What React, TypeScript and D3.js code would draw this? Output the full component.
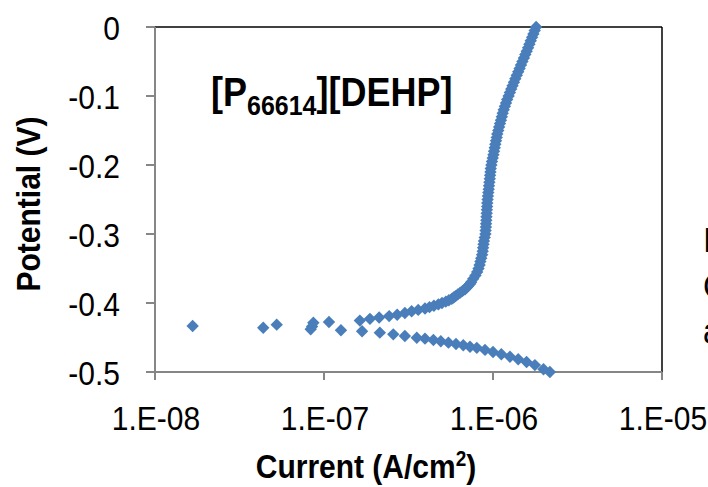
import React from "react";
import * as d3 from "d3";

// Anodic branch: potential (V) and current density (A/cm²)
const anodicPotential = [
  0, -0.005, -0.01, -0.015, -0.02, -0.025, -0.03, -0.035, -0.04, -0.045, -0.05, -0.055, -0.06, -0.065,
  -0.07, -0.075, -0.08, -0.085, -0.09, -0.095, -0.1, -0.105, -0.11, -0.115, -0.12, -0.125, -0.13, -0.135,
  -0.14, -0.145, -0.15, -0.155, -0.16, -0.165, -0.17, -0.175, -0.18, -0.185, -0.19, -0.195, -0.2, -0.205,
  -0.21, -0.215, -0.22, -0.225, -0.23, -0.235, -0.24, -0.245, -0.25, -0.255, -0.26, -0.265, -0.27, -0.275,
  -0.28, -0.285, -0.29, -0.295, -0.3, -0.305, -0.31, -0.315, -0.32, -0.325, -0.33, -0.335, -0.34, -0.345,
  -0.35, -0.355, -0.36, -0.365, -0.37, -0.3725, -0.375, -0.3775, -0.38, -0.3825, -0.385, -0.3875, -0.39,
  -0.392, -0.394, -0.396, -0.398, -0.4, -0.402, -0.404, -0.406, -0.408, -0.41, -0.412, -0.4145, -0.417,
  -0.419, -0.421, -0.423, -0.4255,
];
const anodicCurrent = [
  1.8e-6, 1.765e-6, 1.734e-6, 1.704e-6, 1.672e-6, 1.642e-6, 1.613e-6, 1.583e-6, 1.553e-6, 1.524e-6, 1.493e-6,
  1.464e-6, 1.437e-6, 1.41e-6, 1.383e-6, 1.355e-6, 1.33e-6, 1.305e-6, 1.282e-6, 1.259e-6, 1.237e-6, 1.213e-6,
  1.194e-6, 1.176e-6, 1.157e-6, 1.141e-6, 1.128e-6, 1.114e-6, 1.1e-6, 1.087e-6, 1.074e-6, 1.06e-6, 1.052e-6,
  1.042e-6, 1.032e-6, 1.024e-6, 1.014e-6, 1.006e-6, 9.96e-7, 9.86e-7, 9.78e-7, 9.7e-7, 9.66e-7, 9.61e-7,
  9.57e-7, 9.52e-7, 9.47e-7, 9.43e-7, 9.38e-7, 9.33e-7, 9.29e-7, 9.25e-7, 9.23e-7, 9.2e-7, 9.18e-7, 9.15e-7,
  9.13e-7, 9.1e-7, 9.08e-7, 9.04e-7, 9.02e-7, 8.93e-7, 8.84e-7, 8.79e-7, 8.74e-7, 8.69e-7, 8.62e-7, 8.52e-7,
  8.42e-7, 8.33e-7, 8.21e-7, 8.06e-7, 7.87e-7, 7.64e-7, 7.42e-7, 7.31e-7, 7.14e-7, 6.99e-7, 6.83e-7, 6.61e-7,
  6.4e-7, 6.19e-7, 6.0e-7, 5.85e-7, 5.7e-7, 5.48e-7, 5.26e-7, 4.99e-7, 4.75e-7, 4.47e-7, 4.21e-7, 3.96e-7,
  3.61e-7, 3.3e-7, 3.01e-7, 2.71e-7, 2.43e-7, 2.12e-7, 1.87e-7, 1.63e-7,
];

// Cathodic branch
const cathodicPotential = [
  -0.5, -0.496, -0.49, -0.4855, -0.4816, -0.4778, -0.4743, -0.471, -0.468, -0.465, -0.4633, -0.4613, -0.4594,
  -0.4575, -0.4555, -0.4536, -0.4517, -0.4503, -0.4478, -0.4454, -0.443, -0.441, -0.4396,
];
const cathodicCurrent = [
  2.17e-6, 1.99e-6, 1.77e-6, 1.58e-6, 1.41e-6, 1.26e-6, 1.12e-6, 1.0e-6, 8.97e-7, 8.02e-7, 7.31e-7, 6.67e-7,
  6.04e-7, 5.45e-7, 4.91e-7, 4.44e-7, 3.96e-7, 3.54e-7, 3.01e-7, 2.57e-7, 2.14e-7, 1.68e-7, 1.26e-7,
];

// Scattered points near the corrosion potential
const scatterPotential = [-0.4333, -0.4358, -0.4314, -0.4381, -0.4286, -0.4275, -0.434];
const scatterCurrent = [1.67e-8, 4.37e-8, 5.25e-8, 8.34e-8, 8.65e-8, 1.07e-7, 8.5e-8];

const yTicks = [0, -0.1, -0.2, -0.3, -0.4, -0.5];
const xTicks = [1e-8, 1e-7, 1e-6, 1e-5];
const xTickLabels = ["1.E-08", "1.E-07", "1.E-06", "1.E-05"];

const W = 708;
const H = 487;
const left = 155;
const right = 662;
const top = 27;
const bottom = 372;
const STRETCH = 1.12;

function T({
  x,
  y,
  size,
  anchor = "start",
  bold = false,
  rotate = 0,
  children,
}: {
  x: number;
  y: number;
  size: number;
  anchor?: string;
  bold?: boolean;
  rotate?: number;
  children: React.ReactNode;
}) {
  const tr = rotate
    ? `translate(${x},${y}) rotate(${rotate}) scale(1,${STRETCH})`
    : `translate(${x},${y}) scale(1,${STRETCH})`;
  return (
    <text
      transform={tr}
      textAnchor={anchor}
      fontSize={size}
      fontWeight={bold ? "bold" : "normal"}
      fill="#000"
    >
      {children}
    </text>
  );
}

export default function App() {
  const x = d3.scaleLog().domain([1e-8, 1e-5]).range([left, right]);
  const y = d3.scaleLinear().domain([-0.5, 0]).range([bottom, top]);

  const points: [number, number][] = [];
  anodicPotential.forEach((e, i) => points.push([anodicCurrent[i], e]));
  cathodicPotential.forEach((e, i) => points.push([cathodicCurrent[i], e]));
  scatterPotential.forEach((e, i) => points.push([scatterCurrent[i], e]));

  const r = 6.2;
  const diamond = `M0,${-r}L${r},0L0,${r}L${-r},0Z`;
  const font = "'Liberation Sans', Arial, sans-serif";
  const axisColor = "#868686";

  return (
    <svg
      width={W}
      height={H}
      style={{ position: "absolute", left: 0, top: 0, background: "#fff" }}
      fontFamily={font}
    >
      <rect x={0} y={0} width={W} height={H} fill="#fff" />
      {/* plot frame */}
      <line x1={left} x2={right} y1={top} y2={top} stroke="#000" strokeWidth={1.5} />
      <line x1={right} x2={right} y1={top} y2={bottom} stroke="#000" strokeWidth={1.5} />
      {/* axes */}
      <line x1={left} x2={left} y1={top} y2={bottom + 8} stroke={axisColor} strokeWidth={2} />
      <line x1={left - 9} x2={right} y1={bottom} y2={bottom} stroke={axisColor} strokeWidth={2} />
      {yTicks.map((t) => (
        <g key={t}>
          <line x1={left - 9} x2={left} y1={y(t)} y2={y(t)} stroke={axisColor} strokeWidth={2} />
          <T x={120} y={y(t) + 12.5} size={30} anchor="end">
            {t === 0 ? "0" : d3.format(".1f")(t).replace("−", "-")}
          </T>
        </g>
      ))}
      {xTicks.map((t, i) => (
        <g key={t}>
          <line x1={x(t)} x2={x(t)} y1={bottom} y2={bottom + 8} stroke={axisColor} strokeWidth={2} />
          <T x={x(t) + 1} y={430} size={30} anchor="middle">
            {xTickLabels[i]}
          </T>
        </g>
      ))}
      {/* data */}
      {points.map(([c, e], i) => (
        <path key={i} d={diamond} transform={`translate(${x(c)},${y(e)})`} fill="#4a7ebb" />
      ))}
      {/* axis titles */}
      <T x={40} y={204} size={30} anchor="middle" bold rotate={-90}>
        Potential (V)
      </T>
      <T x={366} y={478} size={30} anchor="middle" bold>
        Current (A/cm<tspan fontSize={19} dy={-11}>2</tspan>
        <tspan dy={11}>)</tspan>
      </T>
      {/* annotation */}
      <T x={211} y={106} size={36} bold>
        [P<tspan fontSize={25} dy={8}>66614</tspan>
        <tspan dy={-8}>][DEHP]</tspan>
      </T>
      {/* clipped text at the right edge */}
      <T x={703} y={252} size={32}>I</T>
      <T x={703} y={298} size={32}>C</T>
      <T x={703} y={343} size={32}>a</T>
    </svg>
  );
}
